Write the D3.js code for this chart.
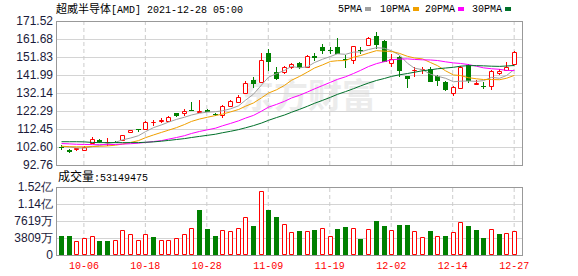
<!DOCTYPE html>
<html>
<head>
<meta charset="utf-8">
<script src="https://cdn.jsdelivr.net/npm/d3@7"></script>
<style>
body { margin: 0; background: #fff; }
svg { display: block; }
.ylab text { font-family: "Liberation Sans", Arial, sans-serif; font-size: 12px; fill: #1a1a3a; }
.xlab text { font-family: "Liberation Mono", monospace; font-size: 10px; fill: #f00; }
</style>
</head>
<body>
<script>
var dates = ["10-01","10-04","10-05","10-06","10-07","10-08","10-11","10-12","10-13","10-14",
    "10-15","10-18","10-19","10-20","10-21","10-22","10-25","10-26","10-27","10-28","10-29",
    "11-01","11-02","11-03","11-04","11-05","11-08","11-09","11-10","11-11","11-12",
    "11-15","11-16","11-17","11-18","11-19","11-22","11-23","11-24","11-26","11-29","11-30",
    "12-01","12-02","12-03","12-06","12-07","12-08","12-09","12-10","12-13","12-14",
    "12-15","12-16","12-17","12-20","12-21","12-22","12-23","12-27"];

var open = [102.6,101.0,101.5,101.0,104.8,106.5,105.1,105.6,106.4,110.6,
    112.4,112.3,116.1,116.9,116.9,121.0,121.0,123.0,122.0,122.8,
    120.8,120.1,125.0,127.4,132.3,139.3,138.0,153.8,143.8,143.5,
    146.5,148.4,146.5,152.4,157.5,155.9,157.1,150.8,150.2,155.9,
    158.4,163.3,160.6,148.4,152.0,141.4,144.5,145.1,145.3,141.4,
    138.0,132.0,135.0,147.4,136.9,136.2,136.0,142.9,144.7,147.8];
var high = [103.5,101.5,102.3,103.0,107.9,107.0,107.4,106.0,109.4,112.1,
    112.4,116.6,117.4,118.3,119.5,121.3,123.2,127.2,128.3,123.2,
    121.2,125.8,128.5,130.8,138.7,141.1,153.9,156.0,146.3,146.8,
    148.5,149.0,153.0,154.2,158.9,157.1,162.0,152.9,157.9,157.1,
    162.5,165.3,161.0,153.3,152.4,141.6,146.2,146.5,146.5,142.0,
    138.5,135.8,147.0,147.8,139.3,138.0,144.5,145.3,148.9,155.0];
var low = [101.2,99.5,100.6,100.4,104.2,105.0,103.4,104.8,106.0,110.3,
    111.0,112.0,114.3,115.6,116.5,119.0,119.3,122.3,121.6,121.5,
    119.6,118.6,124.5,127.0,131.6,134.7,138.0,144.3,139.3,142.5,
    145.0,145.0,145.8,149.8,153.3,153.5,153.3,145.6,147.8,153.4,
    157.8,156.2,148.9,146.5,141.1,134.7,141.0,142.4,138.0,136.0,
    133.2,130.7,134.3,137.4,136.5,134.2,133.8,142.0,144.2,147.5];
var close = [102.4,100.0,101.8,102.8,106.9,105.5,105.3,105.4,109.2,111.9,
    112.0,116.4,116.3,117.1,119.2,119.4,122.3,122.5,122.2,121.9,
    120.5,125.0,127.9,130.1,137.4,136.9,150.2,149.3,139.8,146.2,
    148.0,146.0,152.4,151.5,155.1,155.7,153.5,150.6,157.8,155.6,
    162.0,158.4,149.3,150.6,144.2,139.6,144.7,145.3,138.3,138.7,
    133.8,135.6,146.5,138.7,137.8,136.0,144.3,144.1,146.5,154.4];
var prevClose = 102.9;

// volume in 万 shares
var volume = [4260,4260,3140,3880,4260,3140,3140,3290,5530,4640,
    3290,4640,4030,3290,3290,3730,4640,6050,10080,5830,
    4260,5530,5310,5980,8440,6500,14340,10080,8520,6870,
    5080,5380,5310,5600,5980,4180,5830,6270,5980,3590,
    5750,7620,6500,5600,6720,6720,5310,4030,5380,4260,
    4260,5080,7320,6500,5600,3810,5830,4710,4930,5314.9475];

var ma5 = [103.0,102.6,102.1,102.0,102.8,103.4,104.5,105.2,106.5,107.5,
    108.8,111.0,113.2,114.7,116.2,117.7,118.9,120.1,121.1,121.7,
    121.9,122.4,123.5,125.1,128.2,131.5,136.5,140.8,142.7,144.5,
    146.7,145.9,146.5,148.8,150.6,152.1,153.6,153.3,154.5,154.6,
    155.9,156.9,156.6,155.2,152.9,148.4,145.7,144.9,142.4,141.3,
    140.2,138.3,138.6,138.7,138.5,138.9,140.7,140.2,141.7,145.1];
var ma10 = [103.0,102.8,102.7,102.7,102.9,103.0,103.2,103.6,104.2,105.1,
    106.1,107.7,109.2,110.6,111.8,113.2,114.9,116.6,117.9,118.9,
    119.8,120.6,121.8,123.1,124.9,126.7,129.5,132.1,133.9,136.3,
    139.1,141.2,143.6,145.8,147.5,149.4,149.8,149.9,151.7,152.6,
    154.0,155.3,155.0,154.9,153.8,152.2,151.3,150.8,148.8,147.1,
    144.3,142.0,141.7,140.5,139.9,139.5,139.5,139.4,140.2,141.8];
var ma20 = [104.5,104.3,104.1,104.0,103.9,103.9,103.9,104.0,104.2,104.4,
    104.7,105.1,105.6,106.1,106.9,107.8,108.8,110.0,111.1,112.0,
    112.9,114.2,115.5,116.9,118.4,119.9,122.2,124.4,125.9,127.6,
    129.4,130.9,132.7,134.4,136.2,138.0,139.6,141.0,142.8,144.5,
    146.6,148.2,149.3,150.3,150.7,150.8,150.5,150.3,150.2,149.9,
    149.2,148.6,148.3,147.7,146.8,145.9,145.4,145.1,144.5,144.4];
var ma30 = [105.5,105.5,105.5,105.4,105.1,105.0,105.0,105.0,105.0,105.0,
    105.0,105.2,105.4,105.8,106.2,106.7,107.2,107.8,108.4,109.0,
    109.6,110.4,111.2,112.1,113.1,114.3,115.7,117.2,118.7,120.1,
    121.6,123.2,124.9,126.5,128.1,129.8,131.4,132.9,134.5,136.0,
    137.6,139.0,140.1,141.2,142.1,142.8,143.5,144.3,144.8,145.4,
    145.8,146.2,146.8,147.1,147.1,147.0,146.8,146.7,146.9,147.2];

var priceTicks = [171.52,161.68,151.83,141.99,132.14,122.29,112.45,102.60,92.76];
var priceLabels = ["171.52","161.68","151.83","141.99","132.14","122.29","112.45","102.60","92.76"];
var volTicks = [15238,11428.5,7619,3809.5,0];
var volLabels = ["1.52亿","1.14亿","7619万","3809万","0"];
var dateTicks = ["10-06","10-18","10-28","11-09","11-19","12-02","12-14","12-27"];
var maNames = ["5PMA","10PMA","20PMA","30PMA"];
var lastVolume = "53149475";

var W = 578, H = 276;
var L = 56, R = 522, pTop = 21, pBot = 165, vTop = 187, vBot = 255;
var red = "#ff0000", green = "#008000";
var maColors = ["#a0a0a0", "#f0a000", "#ff00ff", "#00702a"];

var svg = d3.select("body").append("svg")
    .attr("width", W)
    .attr("height", H);

var x = d3.scaleBand().domain(dates).range([57, 518]);
var y = d3.scaleLinear().domain([92.76, 171.52]).range([pBot, pTop]);
var yv = d3.scaleLinear().domain([0, 15238]).range([vBot, vTop]);
function cx(d) { return Math.round(x(d) + x.bandwidth() / 2); }

// watermark
svg.append("text")
    .attr("x", 240)
    .attr("y", 108)
    .attr("font-family", "Noto Sans CJK SC")
    .attr("font-weight", "bold")
    .attr("font-size", 34)
    .attr("fill", "#ececec")
    .text("东方财富");

// horizontal grid
svg.append("g")
    .attr("transform", "translate(" + L + ",0)")
    .call(d3.axisLeft(y).tickValues(priceTicks).tickSize(-(R - L)).tickFormat(""))
    .call(g => g.select(".domain").remove())
    .call(g => g.selectAll("line").attr("stroke", "#d4d4d4"));
svg.append("g")
    .attr("transform", "translate(" + L + ",0)")
    .call(d3.axisLeft(yv).tickValues(volTicks).tickSize(-(R - L)).tickFormat(""))
    .call(g => g.select(".domain").remove())
    .call(g => g.selectAll("line").attr("stroke", "#d4d4d4"));

// vertical dashed grid
[[pTop, pBot], [vTop, vBot]].forEach(function(p) {
    svg.append("g")
        .attr("transform", "translate(0," + p[1] + ")")
        .call(d3.axisBottom(x).tickValues(dateTicks).tickSize(-(p[1] - p[0])).tickFormat(""))
        .call(g => g.select(".domain").remove())
        .call(g => g.selectAll("line").attr("stroke", "#cccccc").attr("stroke-dasharray", "4,3"));
});

// panel frames
[[pTop, pBot], [vTop, vBot]].forEach(function(p) {
    svg.append("rect")
        .attr("x", L + 0.5)
        .attr("y", p[0] + 0.5)
        .attr("width", R - L)
        .attr("height", p[1] - p[0])
        .attr("fill", "none")
        .attr("stroke", "#999");
});

// axis labels
svg.append("g")
    .attr("class", "ylab")
    .attr("transform", "translate(" + (L - 1) + ",0)")
    .call(d3.axisLeft(y).tickValues(priceTicks).tickSize(0).tickPadding(2)
        .tickFormat((d, i) => priceLabels[i]))
    .call(g => g.select(".domain").remove())
    .call(g => g.selectAll("text").attr("font-family", null).attr("font-size", null).attr("fill", null));
svg.append("g")
    .attr("class", "ylab")
    .attr("transform", "translate(" + (L - 1) + ",0)")
    .call(d3.axisLeft(yv).tickValues(volTicks).tickSize(0).tickPadding(2)
        .tickFormat((d, i) => volLabels[i]))
    .call(g => g.select(".domain").remove())
    .call(g => g.selectAll("text").attr("font-family", null).attr("font-size", null).attr("fill", null));
svg.append("g")
    .attr("class", "xlab")
    .attr("transform", "translate(0," + vBot + ")")
    .call(d3.axisBottom(x).tickValues(dateTicks).tickSize(0).tickPadding(7))
    .call(g => g.select(".domain").remove())
    .call(g => g.selectAll("text").attr("font-family", null).attr("font-size", null).attr("fill", null));

// title
var title = svg.append("text").attr("x", L).attr("y", 13).attr("fill", "#000");
title.append("tspan").attr("font-family", "Noto Sans CJK SC").attr("font-size", 11).text("超威半导体");
title.append("tspan").attr("font-family", "Liberation Mono").attr("font-size", 10).text("[AMD] 2021-12-28 05:00");

// legend
var legendX = [338, 380, 425, 472];
maNames.forEach(function(name, i) {
    var t = svg.append("text")
        .attr("x", legendX[i])
        .attr("y", 12)
        .attr("font-family", "Liberation Mono")
        .attr("font-size", 10)
        .attr("fill", "#000")
        .text(name);
    var w = t.node().getComputedTextLength();
    svg.append("rect")
        .attr("x", legendX[i] + w + 3)
        .attr("y", 7)
        .attr("width", 6)
        .attr("height", 4)
        .attr("fill", maColors[i]);
});

// volume label
var vl = svg.append("text").attr("x", L + 2).attr("y", 181).attr("fill", "#000");
vl.append("tspan").attr("font-family", "Noto Sans CJK SC").attr("font-size", 12).text("成交量");
vl.append("tspan").attr("font-family", "Liberation Mono").attr("font-size", 10).text(":" + lastVolume);

// candles
var candles = dates.map(function(d, i) {
    return {date: d, o: open[i], h: high[i], l: low[i], c: close[i], up: close[i] >= open[i]};
});

function boxPath(x0, x1, y0, y1) {
    return "M" + x0 + "," + y0 + "H" + x1 + "V" + y1 + "H" + x0 + "Z";
}

var cg = svg.append("g");
cg.selectAll(".wick")
    .data(candles)
    .enter()
    .append("line")
    .attr("x1", d => cx(d.date) + 0.5)
    .attr("x2", d => cx(d.date) + 0.5)
    .attr("y1", d => Math.round(y(d.h)))
    .attr("y2", d => Math.round(y(d.l)))
    .attr("stroke", d => d.up ? red : green);

cg.selectAll(".body")
    .data(candles)
    .enter()
    .append("path")
    .attr("d", function(d) {
        var t = Math.round(y(Math.max(d.o, d.c)));
        var b = Math.round(y(Math.min(d.o, d.c)));
        var c = cx(d.date);
        if (d.up) return boxPath(c - 1.5, c + 2.5, t + 0.5, b + 0.5);
        return boxPath(c - 2, c + 3, t, Math.max(b, t + 1));
    })
    .attr("fill", d => d.up ? "#fff" : green)
    .attr("stroke", d => d.up ? red : "none");

// moving averages
var mas = [ma5, ma10, ma20, ma30];
var line = d3.line()
    .x((d, i) => cx(dates[i]) + 0.5)
    .y(d => y(d));
svg.selectAll(".ma")
    .data(mas)
    .enter()
    .append("path")
    .attr("d", d => line(d))
    .attr("fill", "none")
    .attr("stroke", (d, i) => maColors[i])
    .attr("stroke-width", 1);

// volume bars
var vols = dates.map(function(d, i) {
    var prev = i == 0 ? prevClose : close[i - 1];
    return {date: d, v: volume[i], up: close[i] >= prev};
});
svg.append("g").selectAll("path")
    .data(vols)
    .enter()
    .append("path")
    .attr("d", function(d) {
        var t = Math.round(yv(d.v));
        var c = cx(d.date);
        if (d.up) return boxPath(c - 1.5, c + 2.5, t + 0.5, vBot - 0.5);
        return boxPath(c - 2, c + 3, t, vBot);
    })
    .attr("fill", d => d.up ? "#fff" : green)
    .attr("stroke", d => d.up ? red : "none");
</script>
</body>
</html>
